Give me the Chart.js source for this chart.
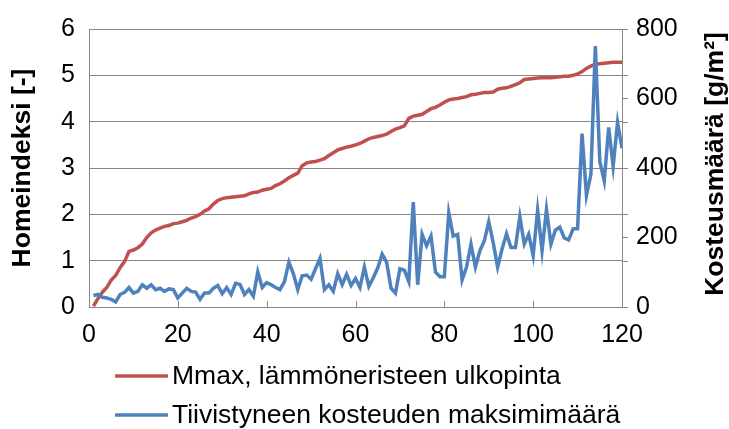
<!DOCTYPE html>
<html>
<head>
<meta charset="utf-8">
<script src="https://cdn.jsdelivr.net/npm/chart.js@4"></script>
<style>
  html, body { margin: 0; padding: 0; background: #fff; }
  #wrap { width: 729px; height: 429px; }
</style>
</head>
<body>
<div id="wrap"><canvas id="c" width="729" height="429"></canvas></div>
<script>
// Case number along the x axis
const caseNo = Array.from({ length: 120 }, (_, i) => i + 1);

// Mould index (left axis)
const mouldIndex = [
  0.02, 0.18, 0.32, 0.42, 0.58, 0.68, 0.85, 0.98, 1.20, 1.23,
  1.28, 1.36, 1.50, 1.60, 1.66, 1.70, 1.74, 1.76, 1.80, 1.81,
  1.84, 1.87, 1.92, 1.95, 2.00, 2.07, 2.12, 2.22, 2.30, 2.34,
  2.36, 2.37, 2.38, 2.39, 2.40, 2.44, 2.47, 2.48, 2.52, 2.54,
  2.56, 2.62, 2.66, 2.72, 2.79, 2.84, 2.89, 3.05, 3.11, 3.13,
  3.14, 3.17, 3.20, 3.27, 3.33, 3.39, 3.42, 3.45, 3.47, 3.50,
  3.53, 3.58, 3.63, 3.66, 3.68, 3.70, 3.73, 3.79, 3.84, 3.87,
  3.91, 4.07, 4.12, 4.14, 4.16, 4.22, 4.28, 4.31, 4.36, 4.42,
  4.47, 4.49, 4.50, 4.52, 4.54, 4.58, 4.59, 4.61, 4.63, 4.63,
  4.64, 4.70, 4.72, 4.73, 4.76, 4.80, 4.84, 4.91, 4.92, 4.93,
  4.94, 4.95, 4.95, 4.95, 4.96, 4.97, 4.98, 4.98, 5.00, 5.03,
  5.08, 5.15, 5.20, 5.24, 5.25, 5.26, 5.27, 5.28, 5.28, 5.28
];

// Maximum amount of condensed moisture, g/m² (right axis)
const condensedMax = [
  33, 36, 28, 26, 22, 15, 36, 42, 56, 40,
  45, 64, 54, 64, 50, 54, 45, 52, 50, 26,
  40, 54, 45, 43, 22, 40, 40, 54, 62, 38,
  56, 36, 68, 65, 36, 50, 31, 101, 56, 70,
  64, 56, 50, 73, 129, 96, 50, 90, 92, 80,
  110, 140, 50, 64, 45, 96, 64, 94, 62, 82,
  56, 115, 59, 84, 112, 152, 129, 54, 40, 110,
  106, 73, 302, 64, 209, 176, 204, 101, 87, 87,
  271, 204, 209, 78, 115, 181, 115, 162, 190, 245,
  185, 115, 167, 211, 171, 171, 260, 181, 209, 148,
  279, 162, 281, 181, 221, 230, 199, 193, 225, 225,
  499, 321, 382, 751, 419, 363, 517, 405, 531, 457
];

const xTicks = [0, 20, 40, 60, 80, 100, 120];
const leftTicks = [0, 1, 2, 3, 4, 5, 6];
const rightTicks = [0, 200, 400, 600, 800];

const seriesNames = ['Mmax, lämmöneristeen ulkopinta', 'Tiivistyneen kosteuden maksimimäärä'];
const axisTitles = ['Homeindeksi [-]', 'Kosteusmäärä [g/m²]'];

const RED = '#C0504D';
const BLUE = '#4F81BD';
const GRID = '#868686';
const FONT = "'Liberation Sans', Arial, sans-serif";

Chart.defaults.font.family = FONT;
Chart.defaults.font.size = 25;
Chart.defaults.color = '#000';

const toPoints = (ys) => caseNo.map((x, i) => ({ x, y: ys[i] }));
const setTicks = (list) => (scale) => { scale.ticks = list.map(v => ({ value: v })); };

// Inward tick marks on the x axis and the short extension of the gridlines past the right axis
const axisMarks = {
  id: 'axisMarks',
  beforeDatasetsDraw(chart) {
    const { ctx, chartArea } = chart;
    const xs = chart.scales.x, yl = chart.scales.y;
    ctx.save();
    ctx.strokeStyle = GRID;
    ctx.lineWidth = 1;
    ctx.beginPath();
    xs.ticks.forEach(t => {
      const px = Math.round(xs.getPixelForValue(t.value)) + 0.5;
      ctx.moveTo(px, chartArea.bottom - 6);
      ctx.lineTo(px, chartArea.bottom);
    });
    yl.ticks.forEach(t => {
      const py = Math.round(yl.getPixelForValue(t.value)) + 0.5;
      ctx.moveTo(chartArea.right, py);
      ctx.lineTo(chartArea.right + 6, py);
    });
    ctx.stroke();
    ctx.restore();
  }
};

// Right axis title, reading bottom to top
const rightTitle = {
  id: 'rightTitle',
  afterDraw(chart) {
    const { ctx, chartArea } = chart;
    ctx.save();
    ctx.translate(716, (chartArea.top + chartArea.bottom) / 2 - 4);
    ctx.rotate(-Math.PI / 2);
    ctx.font = 'bold 26.5px ' + FONT;
    ctx.fillStyle = '#000';
    ctx.textAlign = 'center';
    ctx.textBaseline = 'middle';
    ctx.fillText(axisTitles[1], 0, 0);
    ctx.restore();
  }
};

// Legend below the plot, one entry per row
const stackedLegend = {
  id: 'stackedLegend',
  afterDraw(chart) {
    const { ctx } = chart;
    const rows = [376, 415];
    ctx.save();
    ctx.font = '26.5px ' + FONT;
    ctx.textBaseline = 'middle';
    ctx.textAlign = 'left';
    chart.data.datasets.forEach((ds, i) => {
      const y = rows[i];
      ctx.strokeStyle = ds.borderColor;
      ctx.lineWidth = 3.5;
      ctx.beginPath();
      ctx.moveTo(115, y);
      ctx.lineTo(168, y);
      ctx.stroke();
      ctx.fillStyle = '#000';
      ctx.fillText(ds.label, 172, y + 1);
    });
    ctx.restore();
  }
};

new Chart(document.getElementById('c'), {
  type: 'line',
  data: {
    datasets: [
      {
        label: seriesNames[0],
        data: toPoints(mouldIndex),
        yAxisID: 'y',
        borderColor: RED,
        backgroundColor: RED,
        borderWidth: 3.5,
        pointRadius: 0,
        tension: 0,
        order: 1
      },
      {
        label: seriesNames[1],
        data: toPoints(condensedMax),
        yAxisID: 'y2',
        borderColor: BLUE,
        backgroundColor: BLUE,
        borderWidth: 3.5,
        pointRadius: 0,
        tension: 0,
        order: 0
      }
    ]
  },
  options: {
    responsive: false,
    animation: false,
    devicePixelRatio: 1,
    layout: { padding: { top: 21, left: 0, right: 0, bottom: 0 } },
    plugins: {
      legend: { display: false },
      tooltip: { enabled: false }
    },
    scales: {
      x: {
        type: 'linear',
        min: 0,
        max: 120,
        afterBuildTicks: setTicks(xTicks),
        afterFit: (s) => { s.height = 122; },
        grid: { display: false, drawTicks: false },
        border: { display: true, color: GRID, width: 1 },
        ticks: { padding: 13, maxRotation: 0 }
      },
      y: {
        position: 'left',
        min: 0,
        max: 6,
        afterBuildTicks: setTicks(leftTicks),
        afterFit: (s) => { s.width = 89; },
        grid: { color: GRID, lineWidth: 1, drawTicks: false },
        border: { display: true, color: GRID, width: 1 },
        ticks: { padding: 14 },
        title: {
          display: true,
          text: axisTitles[0],
          font: { size: 26.5, weight: 'bold' },
          padding: { top: 7, bottom: 0 }
        }
      },
      y2: {
        position: 'right',
        min: 0,
        max: 800,
        afterBuildTicks: setTicks(rightTicks),
        afterFit: (s) => { s.width = 107; },
        grid: { drawOnChartArea: false, drawTicks: true, tickLength: 6, color: GRID },
        border: { display: true, color: GRID, width: 1 },
        ticks: { padding: 8 }
      }
    }
  },
  plugins: [axisMarks, rightTitle, stackedLegend]
});
</script>
</body>
</html>
